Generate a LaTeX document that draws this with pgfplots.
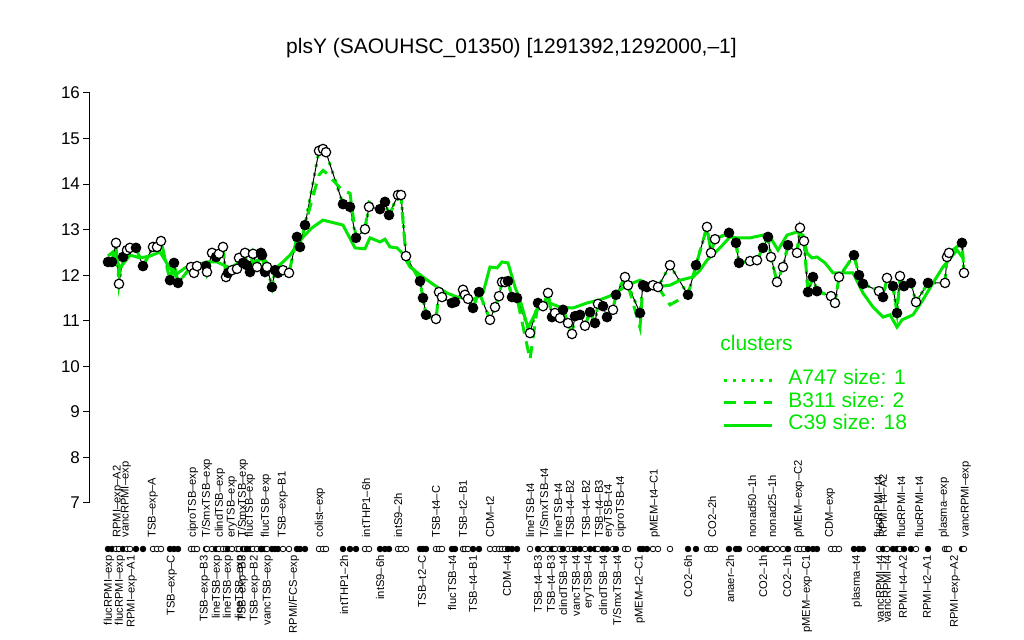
\documentclass[border=0pt]{standalone}
\usepackage{fontspec}
\setmainfont{Liberation Sans}
\usepackage{pgfplots}
\pgfplotsset{compat=1.18}
\usepackage{pgfplotstable}
\definecolor{cgreen}{RGB}{0,230,0}

% x = position along the genome-condition axis, y = expression, f = filled/open, d = cluster B311
\pgfplotstableread{
x y f d
108 12.29 f 12.29
112 12.29 f 12.29
116 12.71 o 12.60
119 11.81 o 12.00
123 12.40 f 12.40
127 12.55 o 12.55
130 12.60 o 12.60
136 12.60 f 12.60
143 12.20 f 12.20
153 12.62 o 12.62
157 12.62 o 12.62
161 12.75 o 12.75
170 11.89 f 11.89
174 12.27 f 12.27
178 11.83 f 11.83
191 12.18 o 12.18
194 12.05 o 12.05
197 12.20 o 12.20
206 12.20 f 12.20
207 12.07 o 12.07
212 12.49 o 12.49
216 12.40 f 12.40
219 12.47 o 12.47
223 12.62 o 12.62
226 11.96 o 11.96
228 12.05 f 12.05
232 12.11 o 12.11
237 12.14 o 12.14
239 12.38 o 12.38
243 12.27 f 12.27
245 12.49 o 12.49
247 12.22 f 12.22
250 12.07 f 12.07
253 12.47 o 12.47
257 12.18 o 12.18
261 12.49 f 12.49
262 12.44 f 12.44
265 12.07 f 12.07
267 12.18 o 12.18
272 11.74 f 11.74
275 12.11 f 12.11
278 12.05 f 12.05
283 12.11 o 12.11
289 12.05 o 12.05
297 12.84 f 12.84
300 12.62 f 12.62
305 13.10 f 13.10
319 14.73 o 14.20
323 14.77 o 14.30
326 14.70 o 14.25
343 13.56 f 13.85
350 13.50 f 13.80
356 12.82 f 12.82
365 13.01 o 13.01
369 13.50 o 13.60
380 13.45 f 13.45
385 13.61 f 13.61
389 13.32 f 13.32
398 13.76 o 13.70
401 13.76 o 13.70
406 12.42 o 12.42
420 11.87 f 11.87
423 11.50 f 11.50
426 11.13 f 11.13
436 11.04 o 11.04
439 11.63 o 11.63
442 11.52 o 11.52
452 11.39 f 11.39
455 11.41 f 11.41
463 11.68 o 11.68
465 11.57 o 11.57
468 11.48 o 11.48
473 11.28 f 11.28
479 11.63 f 11.63
490 11.02 o 11.02
495 11.30 o 11.30
499 11.54 o 11.54
502 11.85 o 11.85
505 11.85 o 11.85
508 11.87 f 11.87
512 11.52 f 11.52
517 11.50 f 11.50
530 10.73 o 10.15
538 11.39 f 11.39
543 11.32 o 11.32
548 11.61 o 11.61
552 11.08 f 11.08
555 11.17 o 11.17
560 11.06 o 11.06
563 11.24 f 11.24
568 10.95 o 10.95
572 10.71 o 10.71
575 11.10 f 11.10
580 11.13 f 11.13
585 10.89 o 10.89
590 11.19 f 11.19
595 10.95 f 10.95
598 11.37 o 11.37
603 11.32 f 11.32
607 11.08 f 11.08
613 11.24 o 11.24
616 11.57 f 11.57
625 11.96 o 11.96
628 11.78 o 11.78
640 11.17 f 10.85
643 11.78 f 11.78
647 11.74 f 11.74
653 11.78 o 11.78
658 11.74 o 11.74
670 12.22 o 11.35
688 11.57 f 11.57
696 12.22 f 12.22
707 13.06 o 13.06
711 12.49 o 12.49
715 12.79 o 12.79
729 12.93 f 12.93
736 12.71 f 12.71
739 12.27 f 12.27
750 12.31 o 12.31
757 12.33 o 12.33
763 12.60 f 12.60
768 12.84 f 12.84
771 12.40 o 12.40
777 11.85 o 11.85
783 12.18 o 12.18
788 12.66 f 12.66
797 12.49 o 12.49
800 13.04 o 13.04
804 12.75 o 12.75
808 11.63 f 11.63
813 11.96 f 11.96
817 11.65 f 11.65
831 11.54 o 11.54
835 11.39 o 11.39
839 11.96 o 11.96
854 12.44 f 12.44
859 12.00 f 12.00
863 11.81 f 11.81
879 11.65 o 11.65
883 11.52 f 11.52
887 11.94 o 11.94
893 11.76 f 11.76
897 11.17 f 11.17
900 11.98 o 11.98
904 11.76 f 11.76
911 11.83 f 11.83
916 11.41 o 11.41
928 11.83 f 11.83
945 11.83 o 11.83
947 12.40 o 12.40
949 12.49 o 12.49
962 12.71 f 12.71
964 12.05 o 12.05
}\gene

% cluster C39 (size 18)
\pgfplotstableread{
x y
108 12.42
113 12.51
120 12.16
130 12.44
140 12.38
150 12.42
160 12.51
168 12.22
175 12.00
185 12.16
195 12.22
207 12.29
217 12.29
230 12.16
240 12.29
250 12.25
263 12.38
273 12.11
283 12.29
290 12.44
303 12.84
312 13.04
323 13.21
343 13.10
355 12.60
365 12.58
370 12.82
380 12.73
385 12.79
390 12.62
397 12.60
402 12.49
410 12.18
423 11.96
437 11.74
447 11.61
457 11.52
473 11.46
483 11.61
490 12.18
497 12.16
502 12.29
508 12.27
515 11.74
520 11.46
528 10.84
537 11.24
547 11.41
560 11.30
573 11.28
587 11.39
600 11.46
613 11.57
627 11.78
640 11.89
653 11.74
670 11.78
680 11.89
693 11.96
700 12.11
707 12.33
720 12.60
730 12.84
737 12.82
750 12.82
763 12.88
772 12.77
778 12.55
787 12.88
797 12.95
803 12.88
807 12.49
812 12.38
817 12.40
825 12.27
833 12.05
843 12.05
853 12.05
863 11.61
873 11.30
883 11.08
890 11.13
897 10.86
902 11.02
913 11.13
923 11.46
933 11.83
943 12.18
957 12.55
963 12.38
}\cthree

\begin{document}
\begin{tikzpicture}
\begin{axis}[
  scale only axis, width=445pt, height=205pt,
  xmin=90, xmax=980, ymin=7, ymax=16,
  clip=false,
  axis lines*=left,
  x axis line style={draw=none},
  y axis line style={line width=0.5pt},
  ytick={7,8,...,16},
  tick align=outside,
  major tick length=3.5pt,
  ytick style={line width=0.5pt, black},
  xtick style={draw=none},
  /pgf/number format/assume math mode=true,
  yticklabel style={font=\fontsize{8.5}{10}\selectfont, xshift=2pt},
  xtick={109,120,132,172,205,217,228,240,243,255,268,294,344,380,422,452,473,507,538,551,563,576,589,603,617,640,688,730,763,787,807,857,880,887,903,927,955},
  xticklabels={flucRPMI–exp,flucRPMI–exp,RPMI–exp–A1,TSB–exp–C,TSB–exp–B3,lineTSB–exp,lineTSB–exp,lineTSB–exp,TSB–exp–B3,TSB–exp–B2,vancTSB–exp,RPMI/FCS–exp,intTHP1–2h,intS9–6h,TSB–t2–C,flucTSB–t4,TSB–t4–B1,CDM–t4,TSB–t4–B3,TSB–t4–B3,clindTSB–t4,vancTSB–t4,eryTSB–t4,clindTSB–t4,T/SmxTSB–t4,pMEM–t2–C1,CO2–6h,anaer–2h,CO2–1h,CO2–1h,pMEM–exp–C1,plasma–t4,vancRPMI–t4,vancRPMI–t4,RPMI–t4–A2,RPMI–t2–A1,RPMI–exp–A2},
  xticklabel style={overlay, rotate=90, anchor=east, inner ysep=0pt, inner xsep=22.5pt, font=\fontsize{5.6}{7}\selectfont},
  extra x ticks={118,126,153,193,207,220,232,243,250,266,283,320,366,398,436,463,490,530,544,558,570,586,599,609,621,655,712,752,772,799,830,878,883,901,919,944,966},
  extra x tick labels={RPMI–exp–A2,vancRPMI–exp,TSB–exp–A,ciproTSB–exp,T/SmxTSB–exp,clindTSB–exp,eryTSB–exp,T/SmxTSB–exp,flucTSB–exp,flucTSB–exp,TSB–exp–B1,colist–exp,intTHP1–6h,intS9–2h,TSB–t4–C,TSB–t2–B1,CDM–t2,lineTSB–t4,T/SmxTSB–t4,lineTSB–t4,TSB–t4–B2,TSB–t4–B2,TSB–t4–B3,eryTSB–t4,ciproTSB–t4,pMEM–t4–C1,CO2–2h,nonad50–1h,nonad25–1h,pMEM–exp–C2,CDM–exp,flucRPMI–t4,RPMI–t4–A2,flucRPMI–t4,flucRPMI–t4,plasma–exp,vancRPMI–exp},
  extra x tick style={xticklabel style={anchor=west, inner xsep=0pt, xshift=-14pt}},
  legend style={at={(axis cs:722,9.95)}, anchor=north west, draw=none, fill=none,
    inner sep=0pt, row sep=0pt, column sep=7.5pt,
    font=\fontsize{10.5}{12}\selectfont, text=cgreen,
    nodes={inner sep=0pt, text height=8pt, text depth=3.25pt}},
  legend cell align=left,
  legend image code/.code={\draw[#1] (0pt,0pt) -- (24pt,0pt);},
]
% bounding box of the full 1024x640 figure
\path (axis cs:0,3.9927) rectangle (axis cs:1024,18.0414);

\addplot[cgreen, line width=1.5pt, dash pattern=on 1.5pt off 3pt] table[x=x,y=y]{\gene};
\addlegendentry{A747 size: 1}
\addplot[black, line width=0.5pt, forget plot] table[x=x,y=y]{\gene};
\addplot[cgreen, line width=1.5pt, dash pattern=on 6pt off 4pt] table[x=x,y=d]{\gene};
\addlegendentry{B311 size: 2}
\addplot[cgreen, line width=1.5pt] table[x=x,y=y]{\cthree};
\addlegendentry{C39 size: 18}

\addplot[forget plot, scatter, only marks, scatter src=explicit symbolic,
  mark size=2.35pt,
  scatter/classes={o={mark=*, fill=white, draw=black, line width=0.6pt},
                   f={mark=*, fill=black, draw=black, line width=0.6pt}}]
  table[x=x,y=y,meta=f]{\gene};
\addplot[forget plot, scatter, only marks, scatter src=explicit symbolic,
  mark size=1.4pt,
  scatter/classes={o={mark=*, fill=white, draw=black, line width=0.4pt},
                   f={mark=*, fill=black, draw=black, line width=0.4pt}}]
  table[x=x,y expr=5.99,meta=f]{\gene};

\node[font=\fontsize{10.5}{12}\selectfont] at (axis cs:511.5,16.99) {plsY (SAOUHSC\_01350) [1291392,1292000,–1]};
\node[anchor=west, inner sep=0pt, text=cgreen, font=\fontsize{10.5}{12}\selectfont] at (axis cs:720,10.51) {clusters};
\end{axis}
\end{tikzpicture}
\end{document}
